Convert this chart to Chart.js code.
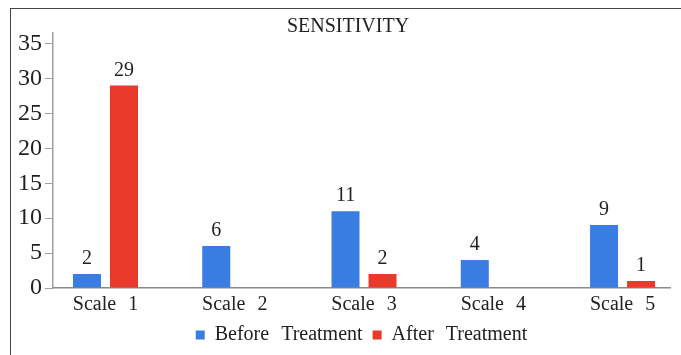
<!DOCTYPE html>
<html>
<head>
<meta charset="utf-8">
<script src="https://cdn.jsdelivr.net/npm/chart.js@4.4.1/dist/chart.umd.min.js"></script>
<style>
  html, body { margin: 0; padding: 0; background: #fff; overflow: hidden; }
  #wrap { position: relative; width: 681px; height: 355px; overflow: hidden; }
  #chart { display: block; }
  #frame {
    position: absolute; left: 10px; top: 8px; width: 800px; height: 500px;
    border-left: 1px solid #444; border-top: 1.5px solid #444;
    pointer-events: none;
  }
</style>
</head>
<body>
<div id="wrap">
  <canvas id="chart" width="681" height="355"></canvas>
  <div id="frame"></div>
</div>
<script>
const categories = ['Scale 1', 'Scale 2', 'Scale 3', 'Scale 4', 'Scale 5'];
const beforeTreatment = [2, 6, 11, 4, 9];
const afterTreatment = [29, null, 2, null, 1];
const yTicks = [0, 5, 10, 15, 20, 25, 30, 35];

const serif = "'Liberation Serif', 'Times New Roman', serif";
Chart.defaults.font.family = serif;
Chart.defaults.color = '#222';

// wide word spacing like the original rendering
const spacing = {
    id: 'spacing',
    beforeLayout(chart) { chart.ctx.wordSpacing = '7px'; },
    afterLayout(chart) {
        // title in the original sits a bit right of the canvas centre
        chart.titleBlock.left += 13;
        chart.titleBlock.right += 13;
    },
    beforeDraw(chart) { chart.ctx.wordSpacing = '7px'; }
};

// value labels above each bar
const barLabels = {
    id: 'barLabels',
    afterDatasetsDraw(chart) {
        const ctx = chart.ctx;
        ctx.save();
        ctx.font = '20px ' + serif;
        ctx.fillStyle = '#222';
        ctx.textAlign = 'center';
        ctx.textBaseline = 'middle';
        chart.data.datasets.forEach((ds, i) => {
            chart.getDatasetMeta(i).data.forEach((bar, j) => {
                const v = ds.data[j].y;
                if (v === null) return;
                ctx.fillText(v, bar.x, bar.y - 15);
            });
        });
        ctx.restore();
    }
};

const ctx = document.getElementById('chart').getContext('2d');
new Chart(ctx, {
    type: 'bar',
    data: {
        datasets: [{
            label: 'Before Treatment',
            data: beforeTreatment.map((v, i) => ({ x: i, y: v })),
            backgroundColor: '#3a7de2',
            categoryPercentage: 0.5725,
            barPercentage: 0.757
        }, {
            label: 'After Treatment',
            data: afterTreatment.map((v, i) => ({ x: i, y: v })),
            backgroundColor: '#e8392b',
            categoryPercentage: 0.5725,
            barPercentage: 0.757
        }]
    },
    options: {
        responsive: false,
        animation: false,
        devicePixelRatio: 1,
        layout: { padding: { left: 0, right: 11, top: 0, bottom: 0 } },
        plugins: {
            title: {
                display: true,
                text: 'SENSITIVITY',
                color: '#222',
                font: { size: 20, weight: 'normal', lineHeight: 0.6 },
                padding: { top: 21, bottom: 0 }
            },
            legend: {
                position: 'bottom',
                fullSize: false,
                labels: {
                    boxWidth: 9,
                    boxHeight: 9,
                    padding: 10,
                    color: '#222',
                    font: { size: 20 }
                }
            },
            tooltip: { enabled: false }
        },
        scales: {
            x: {
                type: 'linear',
                min: -0.406,
                max: 4.367,
                offset: false,
                afterBuildTicks: axis => {
                    axis.ticks = categories.map((c, i) => ({ value: i }));
                },
                afterFit: axis => { axis.height = 27; },
                ticks: {
                    callback: v => categories[v],
                    padding: 5,
                    maxRotation: 0,
                    autoSkip: false,
                    font: { size: 20 }
                },
                grid: { display: false, drawTicks: false, offset: false },
                border: { display: true, color: '#8a8a8a', width: 1.5 }
            },
            y: {
                min: 0,
                max: 36.5,
                afterBuildTicks: axis => {
                    axis.ticks = yTicks.map(v => ({ value: v }));
                },
                afterFit: axis => { axis.width = 53; },
                ticks: { padding: 3, font: { size: 24 } },
                grid: { display: true, drawOnChartArea: false, drawTicks: true, tickLength: 8, color: '#a0a0a0' },
                border: { display: true, color: '#a0a0a0', width: 1.5 }
            }
        }
    },
    plugins: [spacing, barLabels]
});
</script>
</body>
</html>
